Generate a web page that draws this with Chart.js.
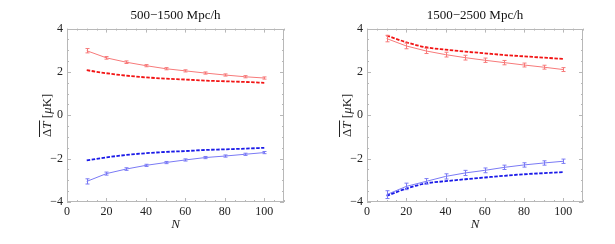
<!DOCTYPE html>
<html>
<head>
<meta charset="utf-8">
<script src="https://cdn.jsdelivr.net/npm/chart.js@4/dist/chart.umd.min.js"></script>
<style>
  body { margin: 0; background: #fff; }
  #wrap { position: relative; width: 615px; height: 244px; }
  canvas { position: absolute; top: 0; }
</style>
</head>
<body>
<div id="wrap">
  <canvas id="left" width="300" height="244" style="left:0"></canvas>
  <canvas id="right" width="315" height="244" style="left:300px"></canvas>
</div>
<script>
// sample sizes
const nValues = [10, 20, 30, 40, 50, 60, 70, 80, 90, 100];

// 500-1500 Mpc/h
const leftRedData = [2.98, 2.65, 2.45, 2.29, 2.15, 2.05, 1.95, 1.86, 1.78, 1.72];
const leftRedErr = [0.1, 0.06, 0.06, 0.05, 0.05, 0.05, 0.05, 0.05, 0.05, 0.05];
const leftRedModel = [2.08, 1.94, 1.83, 1.75, 1.69, 1.65, 1.6, 1.57, 1.54, 1.5];
const leftBlueData = [-3.05, -2.69, -2.48, -2.31, -2.18, -2.06, -1.95, -1.88, -1.8, -1.72];
const leftBlueErr = [0.12, 0.07, 0.06, 0.05, 0.05, 0.05, 0.05, 0.05, 0.05, 0.05];
const leftBlueModel = [-2.08, -1.94, -1.83, -1.75, -1.69, -1.65, -1.6, -1.57, -1.54, -1.5];

// 1500-2500 Mpc/h
const rightRedData = [3.54, 3.2, 2.97, 2.8, 2.66, 2.54, 2.43, 2.32, 2.22, 2.11];
const rightRedErr = [0.15, 0.13, 0.12, 0.11, 0.11, 0.1, 0.1, 0.09, 0.09, 0.09];
const rightRedModel = [3.68, 3.37, 3.14, 3.03, 2.94, 2.86, 2.78, 2.72, 2.66, 2.6];
const rightBlueData = [-3.66, -3.28, -3.05, -2.82, -2.66, -2.54, -2.4, -2.29, -2.2, -2.12];
const rightBlueErr = [0.18, 0.15, 0.13, 0.12, 0.12, 0.11, 0.1, 0.1, 0.1, 0.1];
const rightBlueModel = [-3.72, -3.38, -3.14, -3.04, -2.95, -2.87, -2.79, -2.72, -2.67, -2.62];

const yTicks = [-4, -2, 0, 2, 4];

const serif = "'Liberation Serif', 'DejaVu Serif', serif";
const frameColor = "#b8b8b8";

function pts(ys) {
  return nValues.map((n, i) => ({ x: n, y: ys[i] }));
}

// frame, inner ticks on all sides, error bars, y label
const decorPlugin = {
  id: "decor",
  afterDatasetsDraw(chart) {
    const ctx = chart.ctx;
    const a = chart.chartArea;
    const xs = chart.scales.x, ys = chart.scales.y;
    ctx.save();
    // error bars for the solid (data) series
    chart.data.datasets.forEach(ds => {
      if (!ds.errors) return;
      ctx.strokeStyle = ds.borderColor;
      ctx.lineWidth = 1;
      ds.data.forEach((p, i) => {
        const px = Math.round(xs.getPixelForValue(p.x)) + 0.5;
        const top = ys.getPixelForValue(p.y + ds.errors[i]);
        const bot = ys.getPixelForValue(p.y - ds.errors[i]);
        ctx.beginPath();
        ctx.moveTo(px, top); ctx.lineTo(px, bot);
        ctx.moveTo(px - 2, top); ctx.lineTo(px + 2, top);
        ctx.moveTo(px - 2, bot); ctx.lineTo(px + 2, bot);
        ctx.stroke();
      });
    });
    // frame
    ctx.strokeStyle = frameColor;
    ctx.lineWidth = 1;
    ctx.strokeRect(Math.round(a.left) + 0.5, Math.round(a.top) + 0.5,
      Math.round(a.right - a.left) - 1, Math.round(a.bottom - a.top) - 1);
    // ticks
    ctx.beginPath();
    for (let v = 0; v <= 110; v += 5) {
      const px = Math.round(xs.getPixelForValue(v)) + 0.5;
      const len = v % 20 === 0 ? 4 : 2;
      ctx.moveTo(px, a.bottom); ctx.lineTo(px, a.bottom - len);
      ctx.moveTo(px, a.top); ctx.lineTo(px, a.top + len);
    }
    for (let v = -4; v <= 4; v += 0.5) {
      const py = Math.round(ys.getPixelForValue(v)) + 0.5;
      const len = v % 2 === 0 ? 4 : 2;
      ctx.moveTo(a.left, py); ctx.lineTo(a.left + len, py);
      ctx.moveTo(a.right, py); ctx.lineTo(a.right - len, py);
    }
    ctx.stroke();
    // y label: overline(ΔT) [μK]
    const parts = [
      ["\u0394", "normal"], ["T", "italic"], [" [", "normal"], ["\u03bc", "italic"], ["K]", "normal"]
    ];
    const size = 13;
    let total = 0;
    const widths = parts.map(p => {
      ctx.font = p[1] + " " + size + "px " + serif;
      const w = ctx.measureText(p[0]).width;
      total += w;
      return w;
    });
    ctx.translate(a.left - 20, (a.top + a.bottom) / 2);
    ctx.rotate(-Math.PI / 2);
    ctx.fillStyle = "#222";
    ctx.textBaseline = "alphabetic";
    ctx.textAlign = "left";
    let x = -total / 2;
    const baseY = 4;
    parts.forEach((p, i) => {
      ctx.font = p[1] + " " + size + "px " + serif;
      ctx.fillText(p[0], x, baseY);
      x += widths[i];
    });
    ctx.strokeStyle = "#222";
    ctx.beginPath();
    ctx.moveTo(-total / 2, baseY - 11.5);
    ctx.lineTo(-total / 2 + widths[0] + widths[1] + 1, baseY - 11.5);
    ctx.stroke();
    ctx.restore();
  }
};

function makeChart(id, title, rightPad, redData, redErr, redModel, blueData, blueErr, blueModel) {
  return new Chart(document.getElementById(id), {
    type: "line",
    data: {
      datasets: [
        { data: pts(redModel), borderColor: "#f21414", borderWidth: 1.8, borderDash: [3.5, 1.5],
          pointRadius: 0, tension: 0.4, cubicInterpolationMode: "monotone" },
        { data: pts(blueModel), borderColor: "#1a1ae8", borderWidth: 1.8, borderDash: [3.5, 1.5],
          pointRadius: 0, tension: 0.4, cubicInterpolationMode: "monotone" },
        { data: pts(redData), errors: redErr, borderColor: "#f77a7a", borderWidth: 1,
          pointRadius: 0, tension: 0 },
        { data: pts(blueData), errors: blueErr, borderColor: "#7a7af5", borderWidth: 1,
          pointRadius: 0, tension: 0 }
      ]
    },
    options: {
      responsive: false,
      animation: false,
      layout: { padding: { left: 0, right: rightPad, top: 0, bottom: 0 } },
      plugins: {
        legend: { display: false },
        tooltip: { enabled: false },
        title: {
          display: true,
          text: title,
          fullSize: false,
          color: "#111",
          font: { family: serif, size: 13, weight: "normal" },
          padding: { top: 8, bottom: 5 }
        }
      },
      scales: {
        x: {
          type: "linear",
          min: 0,
          max: 110,
          grid: { display: false, drawTicks: false },
          border: { display: false },
          ticks: {
            stepSize: 20,
            includeBounds: false,
            padding: 3,
            color: "#222",
            maxRotation: 0,
            font: { family: serif, size: 12 }
          },
          title: {
            display: true,
            text: "N",
            color: "#222",
            font: { family: serif, size: 13, style: "italic" },
            padding: { top: 0, bottom: 12 }
          },
          afterFit(s) { s.height = 42; }
        },
        y: {
          min: -4,
          max: 4,
          grid: { display: false, drawTicks: false },
          border: { display: false },
          afterBuildTicks(s) { s.ticks = yTicks.map(v => ({ value: v })); },
          ticks: {
            padding: 4,
            color: "#222",
            font: { family: serif, size: 12 },
            callback: v => String(v).replace("-", "\u2212")
          },
          afterFit(s) { s.width = 67; }
        }
      }
    },
    plugins: [decorPlugin]
  });
}

makeChart("left", "500\u22121500 Mpc/h", 16,
  leftRedData, leftRedErr, leftRedModel, leftBlueData, leftBlueErr, leftBlueModel);
makeChart("right", "1500\u22122500 Mpc/h", 32,
  rightRedData, rightRedErr, rightRedModel, rightBlueData, rightBlueErr, rightBlueModel);
</script>
</body>
</html>
